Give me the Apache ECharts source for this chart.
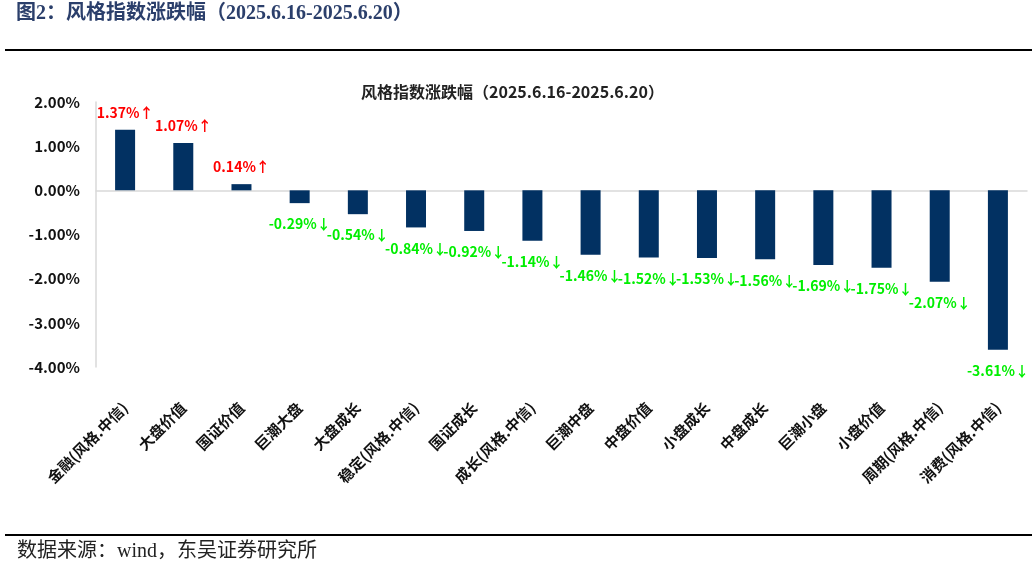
<!DOCTYPE html>
<html><head><meta charset="utf-8">
<script src="https://cdn.jsdelivr.net/npm/echarts@6/dist/echarts.min.js"></script>
<style>html,body{margin:0;padding:0;background:#fff}#c{width:1032px;height:570px}</style>
</head><body><div id="c"></div>
<script>
const categories = ['金融(风格.中信)','大盘价值','国证价值','巨潮大盘','大盘成长','稳定(风格.中信)','国证成长','成长(风格.中信)','巨潮中盘','中盘价值','小盘成长','中盘成长','巨潮小盘','小盘价值','周期(风格.中信)','消费(风格.中信)'];
const changes = [1.37,1.07,0.14,-0.29,-0.54,-0.84,-0.92,-1.14,-1.46,-1.52,-1.53,-1.56,-1.69,-1.75,-2.07,-3.61];
const yTicks = [-4,-3,-2,-1,0,1,2];
const headerText = '图2：风格指数涨跌幅（2025.6.16-2025.6.20）';
const chartTitle = '风格指数涨跌幅（2025.6.16-2025.6.20）';
const sourceText = '数据来源：wind，东吴证券研究所';

const cjk = '"Noto Sans CJK SC", "Noto Sans", sans-serif';
const serif = '"Liberation Serif", "DejaVu Serif", "Noto Sans CJK SC", serif';

const chart = echarts.init(document.getElementById('c'));
const data = changes.map(v => ({
  value: v,
  label: v >= 0
    ? {position: 'top', distance: 10, color: '#ff0000', formatter: p => p.value.toFixed(2) + '%↑'}
    : {position: 'bottom', distance: 14, color: '#00ee00', formatter: p => p.value.toFixed(2) + '%↓'}
}));
chart.setOption({
  animation: false,
  title: {
    text: chartTitle, left: 356, top: 79,
    textStyle: {fontFamily: cjk, fontSize: 16, fontWeight: 'bold', color: '#222'}
  },
  graphic: [
    {type: 'text', left: 16, top: 4, style: {text: headerText, font: 'bold 20px ' + serif, fill: '#2b3f6b'}},
    {type: 'line', shape: {x1: 5, y1: 50, x2: 1032, y2: 50}, style: {stroke: '#000', lineWidth: 2}},
    {type: 'line', shape: {x1: 5, y1: 535, x2: 1032, y2: 535}, style: {stroke: '#000', lineWidth: 2}},
    {type: 'text', left: 17, top: 542, style: {text: sourceText, font: '20px ' + serif, fill: '#222'}}
  ],
  grid: {left: 96, right: 5, top: 102, bottom: 203, containLabel: false},
  xAxis: [
    {
      type: 'category', data: categories, position: 'bottom',
      axisLine: {show: false, onZero: false}, axisTick: {show: false},
      axisLabel: {rotate: 45, margin: 38, interval: 0, fontFamily: cjk, fontSize: 15, fontWeight: 'bold', color: '#111'}
    },
    {
      type: 'category', data: categories,
      axisLine: {show: true, onZero: true, lineStyle: {color: '#d9d9d9', width: 1.5}},
      axisTick: {show: false}, axisLabel: {show: false}
    }
  ],
  yAxis: {
    type: 'value', min: yTicks[0], max: yTicks[yTicks.length - 1], interval: 1,
    axisLine: {show: true, lineStyle: {color: '#d9d9d9', width: 1.5}},
    axisTick: {show: false}, splitLine: {show: false},
    axisLabel: {margin: 16, fontFamily: cjk, fontSize: 15, fontWeight: 'bold', color: '#111', formatter: v => v.toFixed(2) + '%'}
  },
  series: [{
    type: 'bar', xAxisIndex: 0, data: data, barWidth: 20,
    itemStyle: {color: '#023162'},
    label: {show: true, fontFamily: cjk, fontSize: 14, fontWeight: 'bold'}
  }]
});
</script></body></html>
